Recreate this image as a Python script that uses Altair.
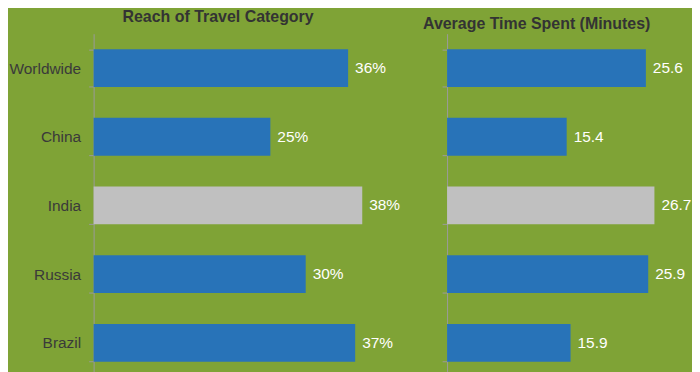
import altair as alt
import pandas as pd

countries = ["Worldwide", "China", "India", "Russia", "Brazil"]
reach_pct = [36, 25, 38, 30, 37]
time_min = [25.6, 15.4, 26.7, 25.9, 15.9]
highlight = [False, False, True, False, False]

df = pd.DataFrame({
    "country": countries,
    "reach": reach_pct,
    "reach_label": [f"{v}%" for v in reach_pct],
    "time": time_min,
    "time_label": [f"{v:.1f}" for v in time_min],
    "hl": ["India" if h else "Other" for h in highlight],
})

FONT = "Liberation Sans"
color = alt.Color("hl:N", scale=alt.Scale(domain=["Other", "India"], range=["#2873b8", "#c0c0c0"]), legend=None)
yscale = alt.Scale(domain=countries, paddingInner=0.45, paddingOuter=0.225)


def panel(field, label_field, xmax, w, title, dx, show_labels):
    base = alt.Chart(df).encode(
        y=alt.Y("country:N", sort=countries, scale=yscale, title=None,
                axis=alt.Axis(labels=show_labels, labelFontSize=15.5, labelColor="#3a3a3a",
                              labelFont=FONT, labelPadding=8, tickSize=5, tickBand="extent",
                              tickColor="#9a9a9a", domainColor="#9a9a9a", grid=False)),
    )
    bars = base.mark_bar().encode(
        x=alt.X(f"{field}:Q", scale=alt.Scale(domain=[0, xmax], nice=False), axis=None),
        color=color,
    )
    text = base.mark_text(align="left", dx=7, fontSize=15.5, font=FONT, color="white").encode(
        x=alt.X(f"{field}:Q"),
        text=alt.Text(f"{label_field}:N"),
    )
    return (bars + text).properties(
        width=w, height=345,
        title=alt.TitleParams(title, fontSize=16, font=FONT, fontWeight="bold", color="#333333",
                              dx=dx, offset=2, anchor="middle"),
    )


left = panel("reach", "reach_label", 40, 284, "Reach of Travel Category", -17, True)
right = panel("time", "time_label", 30, 234, "Average Time Spent (Minutes)", -27, False)

chart = alt.hconcat(left, right, spacing=71, bounds="flush").properties(
    background="#7fa336", padding=0
).configure_view(stroke=None).configure_concat(spacing=71)

chart.save("out.html", embed_options={"renderer": "svg", "actions": False})
